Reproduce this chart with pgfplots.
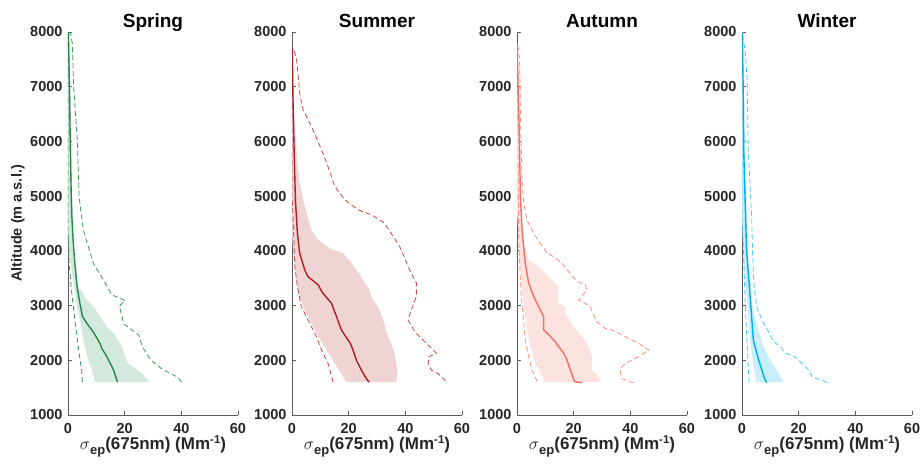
\documentclass[border=0pt]{standalone}
\usepackage{pgfplots}
\pgfplotsset{compat=1.18}
\usepackage{fontspec}
\setmainfont{Liberation Sans}
\definecolor{axisgray}{RGB}{90,90,90}
\definecolor{labelgray}{RGB}{38,38,38}
\definecolor{sprL}{RGB}{35,135,70}
\definecolor{sprD}{RGB}{60,150,90}
\definecolor{sprF}{RGB}{212,233,221}
\definecolor{sumL}{RGB}{178,28,36}
\definecolor{sumD}{RGB}{200,70,70}
\definecolor{sumF}{RGB}{240,212,212}
\definecolor{autL}{RGB}{246,110,96}
\definecolor{autD}{RGB}{248,140,128}
\definecolor{autF}{RGB}{253,227,224}
\definecolor{winL}{RGB}{0,174,239}
\definecolor{winD}{RGB}{70,200,245}
\definecolor{winF}{RGB}{200,238,251}
\pgfplotsset{
  season/.style={
    scale only axis, width=170pt, height=383pt,
    xmin=0, xmax=60, ymin=1000, ymax=8000,
    axis x line*=bottom, axis y line*=left,
    axis line style={-, draw=axisgray, line width=0.8pt},
    xtick={0,20,40,60}, ytick={1000,2000,...,8000},
    tick align=inside, major tick length=4pt,
    every tick/.style={draw=axisgray, line width=0.8pt},
    tick label style={font=\fontsize{14.5}{16}\selectfont\bfseries, text=labelgray},
    xticklabel style={yshift=-4.5pt},
    yticklabel style={xshift=-2pt},
    /pgf/number format/assume math mode=true,
    /pgf/number format/set thousands separator={},
    xlabel={\fontsize{17}{19}\selectfont\bfseries $\sigma$\raisebox{-0.45ex}{\fontsize{13}{14}\selectfont ep}(675nm) (Mm\raisebox{0.75ex}{\fontsize{11.5}{13}\selectfont -1})},
    xlabel style={at={(axis description cs:0.5,0)}, anchor=base, yshift=-35pt, text=labelgray},
    title style={at={(axis description cs:0.5,1)}, anchor=base, yshift=-1.5pt, font=\fontsize{19}{22}\selectfont\bfseries, text=black},
  },
  fillp/.style={draw=none, fill=#1},
  meanp/.style={draw=#1, line width=1.4pt},
  dashp/.style={draw=#1, line width=0.8pt, dash pattern=on 5pt off 3pt},
}
\begin{document}
\begin{tikzpicture}
\useasboundingbox (-68pt,-50pt) rectangle (853pt,415pt);
% ---------------- Spring
\begin{axis}[season, at={(0pt,0pt)}, title={Spring},
  ylabel={\fontsize{14.5}{16}\selectfont\bfseries Altitude (m a.s.l.)},
  ylabel style={at={(axis description cs:0,0.5)}, anchor=center, yshift=50pt, text=labelgray}]
\addplot[fillp=sprF] coordinates {(28.9,1600)(26.2,1760)(22.0,1915)(20.8,1975)(19.1,2250)(16.1,2495)(13.7,2615)(11.3,2800)(9.5,2950)(7.8,3045)(6.0,3135)(5.4,3225)(3.6,3350)(2.4,3715)(2.0,4080)(1.6,4810)(1.2,5500)(1.0,6000)(0.8,7000)(0.4,8000)
 (0,8000)(0,4400)(0.6,3900)(1.8,3470)(3.0,3045)(4.2,2740)(5.4,2370)(7.1,2005)(8.9,1765)(9.5,1600)} -- cycle;
\addplot[dashp=sprD] coordinates {(40.1,1600)(38.5,1700)(36,1760)(32.8,1855)(29.2,2005)(26.2,2250)(25.0,2460)(22.6,2555)(19.6,2665)(19.1,2800)(18.1,2990)(20.2,3090)(15.5,3195)(12.5,3470)(8.9,3775)(5.4,4385)(3.9,5000)(3.3,6000)(2.0,7000)(1.5,7800)(0.8,8000)};
\addplot[dashp=sprD] coordinates {(5.1,1600)(4.8,1820)(3.6,2250)(2.4,2740)(1.2,3290)(0.4,3780)(0,4300)(0,8000)};
\addplot[meanp=sprL] coordinates {(17.5,1600)(16.1,1820)(13.7,2070)(11.9,2220)(11.3,2310)(8.9,2520)(6.6,2680)(5.1,2800)(4.2,3040)(3.2,3350)(2.4,3780)(1.8,4200)(1.3,4690)(1.1,5100)(0.8,6000)(0.5,7000)(0.2,7800)(0.1,8000)};
\end{axis}
% ---------------- Summer
\begin{axis}[season, at={(224pt,0pt)}, title={Summer}]
\addplot[fillp=sumF] coordinates {(36.8,1600)(37.3,1800)(36.8,1950)(36.2,2130)(35,2300)(33.9,2430)(33,2600)(32.1,2740)(30.9,2920)(28,3165)(27.4,3290)(25.7,3410)(23.5,3600)(21,3775)(18,3960)(13.9,4030)(9.2,4200)(6.8,4385)(4.5,4810)(2.7,5240)(1.9,5600)(1.3,6090)(0.7,6580)(0.35,7310)(0.1,7700)
 (0,7700)(0,4300)(0.35,4020)(1.0,3715)(2.1,3225)(4.5,2920)(6.8,2675)(9.2,2435)(11.5,2250)(15.1,1945)(19.2,1600)} -- cycle;
\addplot[dashp=sumD] coordinates {(54.2,1620)(53.9,1640)(51.5,1760)(49.2,1820)(48,1945)(48.4,2067)(51,2128)(46.8,2340)(43.3,2525)(40.9,2740)(42.1,2920)(43.9,3165)(43.9,3410)(41.5,3655)(38,4080)(32.7,4505)(28,4660)(23.3,4750)(18.6,4935)(15.1,5180)(12.7,5540)(10.4,5850)(7.4,6215)(3.9,6580)(2.7,6885)(2.1,7250)(1.6,7495)(0.7,7680)};
\addplot[dashp=sumD] coordinates {(14.5,1600)(12.7,1945)(10.4,2190)(8.6,2435)(5.6,2740)(3.3,2980)(1.9,3350)(1.0,3715)(0.7,4140)(0.3,4690)(0,5000)(0,7700)};
\addplot[meanp=sumL] coordinates {(27.2,1600)(26.2,1670)(24.5,1820)(22.7,2005)(21.5,2190)(20.6,2310)(19.8,2370)(17.4,2555)(15.7,2800)(13.9,3045)(10.9,3225)(9.2,3380)(5.6,3530)(4.5,3650)(2.7,3960)(1.9,4325)(1.2,4935)(0.9,5545)(0.6,6150)(0.35,6760)(0.1,7700)};
\end{axis}
% ---------------- Autumn
\begin{axis}[season, at={(449pt,0pt)}, title={Autumn}]
\addplot[fillp=autF] coordinates {(29.8,1600)(28.8,1700)(26.5,1825)(26.5,2065)(24.7,2310)(22.9,2435)(20,2615)(17,2860)(17,2980)(14.7,3045)(14.5,3350)(11.2,3530)(7.6,3715)(4.1,3835)(2.4,4140)(1.5,4445)(1.2,5000)(1.0,5500)(0.8,6500)(0.5,7500)(0.2,7750)
 (0,7750)(0,4700)(0.4,4385)(0.8,3960)(1.5,3470)(2.4,2980)(3.5,2555)(4.7,2250)(6.5,1945)(8.2,1765)(10,1600)} -- cycle;
\addplot[dashp=autD] coordinates {(41.2,1590)(38.2,1640)(36.8,1670)(36.5,1795)(37,1885)(39.4,1975)(42.9,2065)(46.5,2190)(42.9,2310)(38.2,2435)(33.5,2555)(31.2,2580)(28.2,2705)(26.5,2890)(25.9,2980)(22.9,3075)(21.8,3105)(24.7,3285)(24.1,3380)(21.2,3440)(18.2,3620)(15.9,3775)(12.9,3895)(10.6,3960)(8.2,4140)(5.9,4325)(3.5,4565)(2.4,4870)(1.8,5300)(1.5,5905)(1.2,6500)(1.1,7000)(0.9,7500)(0.3,7750)};
\addplot[dashp=autD] coordinates {(7.1,1610)(5.3,1820)(4.1,2065)(2.9,2370)(2.4,2680)(1.5,3165)(1.1,3590)(0.8,3960)(0.6,4385)(0.4,5500)(0.3,6500)(0.1,7500)(0,7750)};
\addplot[meanp=autL] coordinates {(22.9,1590)(20.3,1610)(18.8,1825)(17.6,2005)(16.5,2130)(14.7,2250)(13.5,2340)(11.2,2465)(9.4,2555)(9.4,2800)(7.6,2980)(5.9,3165)(4.1,3410)(2.9,3775)(1.8,4385)(1.2,4995)(0.8,6150)(0.35,7070)(0,7800)};
\end{axis}
% ---------------- Winter
\begin{axis}[season, at={(674pt,0pt)}, title={Winter}]
\addplot[fillp=winF] coordinates {(14.6,1600)(12.9,1765)(9.9,2005)(7.6,2250)(5.8,2555)(4.4,2800)(3.4,3105)(3.0,3500)(2.4,3715)(1.8,4325)(1.2,5545)(0.6,7370)(0.2,8000)
 (0,8000)(0,4600)(0.2,4325)(0.6,3900)(1.2,3410)(2.0,2920)(2.7,2495)(3.3,2190)(4.1,1885)(5.1,1600)} -- cycle;
\addplot[dashp=winD] coordinates {(30,1590)(28.2,1640)(25.9,1670)(24.7,1700)(23.5,1825)(21.1,1945)(19.4,2035)(17.6,2095)(15.2,2130)(13.5,2250)(11.1,2340)(9.3,2525)(7.0,2740)(5.2,2980)(4.4,3285)(4.1,3500)(3.7,4020)(3.4,4630)(2.8,5240)(2.2,5850)(1.8,7130)(1.2,7615)(0,8000)};
\addplot[dashp=winD] coordinates {(2.5,1590)(2.2,1885)(1.6,2495)(1.1,3105)(0.5,4020)(0,4600)(0,8000)};
\addplot[meanp=winL] coordinates {(8.7,1590)(7.7,1700)(7.0,1820)(5.9,2000)(5.2,2130)(4.0,2370)(3.4,2800)(2.5,3410)(1.6,4020)(1.1,4930)(0.6,5850)(0.4,7000)(0.1,7980)};
\end{axis}
\end{tikzpicture}
\end{document}
